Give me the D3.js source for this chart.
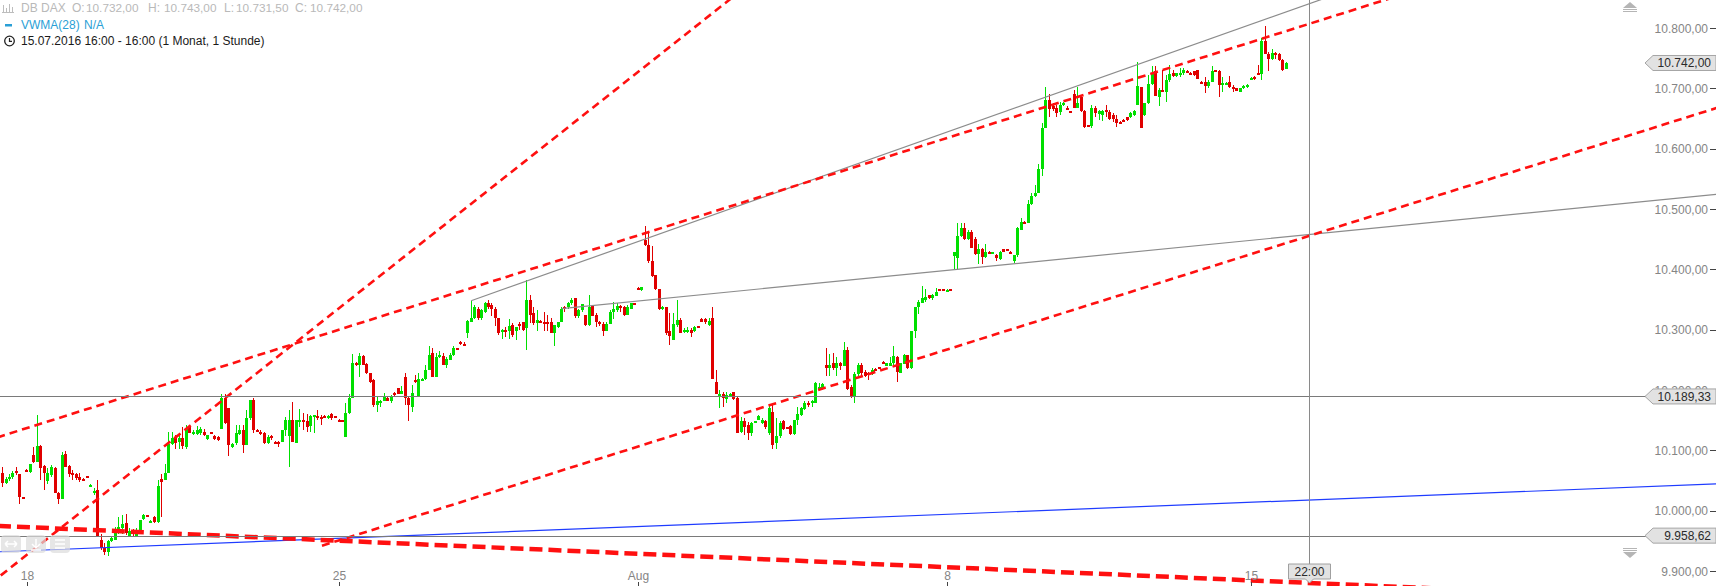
<!DOCTYPE html>
<html><head><meta charset="utf-8">
<script src="https://cdn.jsdelivr.net/npm/d3@7"></script>
<style>
html,body{margin:0;padding:0;background:#fff;overflow:hidden}
svg{display:block;font-family:Arial,"Liberation Sans",sans-serif}
</style></head><body>
<svg id="chart" width="1716" height="586"></svg>
<script>
// ---------- DATA (hourly candles, DB DAX, 15.07.2016 16:00 - 15.08.2016 16:00) ----------
const open = [
10062,10046,10052,10056,10066,10061,10023,10068,10064,10092,
10081,10107,10074,10050,10059,10070,10029,10019,10094,10074,
10062,10060,10056,10052,10058,10041,10030,10035,9951,9938,
9932,9950,9951,9969,9972,9979,9957,9968,9957,9965,
9987,9993,9980,9990,9981,10053,10051,10063,10111,10120,
10113,10120,10106,10139,10127,10127,10129,10131,10118,10130,
10124,10122,10136,10186,10170,10106,10112,10127,10134,10109,
10153,10183,10134,10131,10129,10112,10123,10114,10114,10114,
10134,10124,10151,10112,10150,10151,10149,10140,10157,10157,
10156,10157,10153,10161,10157,10151,10150,10122,10162,10186,
10245,10241,10256,10243,10228,10217,10175,10178,10182,10186,
10182,10195,10203,10193,10222,10186,10172,10217,10190,10216,
10218,10233,10261,10222,10256,10257,10242,10250,10258,10270,
10279,10277,10294,10313,10319,10334,10319,10330,10345,10341,
10335,10319,10298,10299,10297,10308,10297,10310,10313,10302,
10350,10327,10311,10315,10313,10313,10313,10295,10304,10312,
10337,10337,10344,10352,10322,10333,10324,10307,10339,10324,
10313,10310,10298,10310,10330,10333,10339,10337,10324,10335,
10344,10369,10365,10449,10440,10414,10391,10368,10334,10338,
10297,10283,10308,10316,10297,10298,10299,10298,10306,10317,
10317,10308,10319,10214,10188,10193,10185,10193,10196,10186,
10131,10148,10142,10128,10146,10151,10145,10148,10128,10164,
10112,10123,10149,10138,10140,10127,10150,10159,10169,10179,
10178,10179,10201,10204,10241,10237,10245,10236,10245,10240,
10267,10205,10188,10227,10241,10230,10229,10226,10235,10238,
10247,10240,10240,10244,10255,10229,10243,10258,10236,10297,
10337,10345,10350,10357,10352,10356,10367,10367,10366,10368,
10422,10418,10455,10469,10450,10462,10451,10425,10433,10421,
10429,10426,10424,10417,10433,10433,10429,10413,10424,10466,
10479,10477,10508,10521,10527,10566,10635,10680,10671,10668,
10660,10672,10668,10663,10690,10668,10685,10663,10639,10637,
10668,10657,10656,10664,10660,10656,10649,10645,10648,10652,
10652,10656,10672,10703,10656,10675,10707,10728,10685,10698,
10694,10713,10726,10720,10723,10725,10729,10726,10728,10730,
10711,10711,10704,10711,10730,10728,10706,10706,10711,10703,
10700,10694,10700,10702,10715,10719,10726,10724,10779,10757,
10748,10759,10757,10747,10732];
const high = [
10072,10056,10061,10066,10073,10061,10023,10069,10078,10106,
10158,10109,10076,10070,10076,10072,10031,10098,10099,10076,
10067,10062,10063,10054,10058,10044,10038,10051,9961,9946,
9951,9956,9973,9990,9993,9994,9971,9970,9971,9984,
9995,9993,9984,9991,10051,10061,10078,10131,10131,10125,
10125,10139,10142,10142,10133,10140,10139,10135,10125,10130,
10125,10123,10194,10194,10170,10112,10142,10142,10142,10167,
10183,10186,10135,10134,10131,10126,10126,10115,10116,10134,
10156,10167,10180,10150,10168,10162,10161,10159,10159,10167,
10159,10158,10158,10162,10157,10152,10151,10178,10194,10260,
10247,10262,10258,10244,10229,10219,10189,10183,10195,10189,
10192,10197,10204,10206,10229,10189,10208,10225,10228,10220,
10242,10273,10269,10261,10265,10261,10255,10261,10273,10270,
10282,10280,10316,10348,10341,10338,10334,10346,10349,10344,
10337,10319,10301,10305,10317,10311,10305,10313,10313,10382,
10357,10338,10333,10316,10330,10324,10319,10308,10313,10337,
10339,10346,10352,10352,10335,10343,10324,10358,10341,10327,
10315,10312,10312,10333,10346,10344,10341,10339,10341,10345,
10344,10370,10371,10471,10462,10438,10391,10368,10339,10338,
10327,10327,10349,10319,10302,10304,10302,10306,10306,10320,
10320,10319,10338,10233,10200,10197,10197,10195,10197,10189,
10156,10153,10147,10147,10149,10158,10153,10150,10175,10178,
10153,10148,10150,10138,10142,10151,10172,10172,10181,10181,
10183,10214,10211,10211,10269,10260,10261,10255,10247,10280,
10272,10208,10230,10244,10244,10233,10230,10236,10236,10238,
10248,10245,10255,10273,10256,10245,10260,10258,10297,10338,
10349,10372,10367,10358,10359,10369,10367,10367,10367,10368,
10429,10476,10476,10476,10465,10465,10453,10442,10435,10442,
10430,10429,10425,10431,10434,10434,10430,10424,10470,10485,
10480,10515,10527,10540,10575,10642,10703,10691,10675,10672,
10678,10677,10670,10663,10698,10703,10686,10664,10640,10672,
10670,10664,10664,10672,10664,10659,10656,10646,10649,10653,
10660,10664,10743,10703,10676,10722,10737,10737,10700,10730,
10722,10739,10730,10726,10733,10733,10730,10727,10729,10731,
10712,10719,10714,10737,10730,10730,10718,10710,10721,10705,
10701,10701,10705,10707,10718,10720,10739,10783,10803,10761,
10765,10761,10758,10748,10743];
const low = [
10040,10044,10050,10053,10059,10011,10021,10066,10063,10079,
10081,10051,10034,10045,10056,10029,10011,10019,10072,10056,
10051,10051,10048,10049,10056,10040,10026,9956,9934,9926,
9925,9948,9951,9962,9962,9960,9957,9958,9957,9962,
9985,9992,9979,9980,9980,9990,10051,10063,10109,10103,
10102,10102,10103,10128,10126,10125,10125,10123,10117,10129,
10117,10116,10136,10144,10090,10104,10109,10125,10095,10109,
10150,10128,10130,10125,10110,10110,10117,10110,10106,10113,
10124,10072,10113,10112,10139,10134,10131,10131,10128,10150,
10142,10154,10152,10151,10156,10147,10147,10122,10161,10186,
10239,10222,10241,10227,10211,10172,10164,10172,10181,10181,
10179,10189,10193,10193,10175,10148,10164,10211,10190,10215,
10217,10233,10222,10221,10253,10242,10236,10249,10256,10269,
10275,10273,10286,10312,10317,10316,10316,10328,10335,10322,
10306,10291,10284,10288,10284,10288,10283,10300,10297,10266,
10311,10308,10297,10314,10297,10297,10294,10273,10302,10312,
10330,10334,10341,10319,10320,10330,10306,10306,10322,10305,
10306,10289,10297,10309,10317,10330,10330,10323,10324,10334,
10343,10367,10364,10439,10410,10388,10365,10332,10333,10291,
10275,10283,10305,10294,10294,10295,10288,10296,10305,10313,
10309,10306,10219,10193,10170,10172,10179,10192,10183,10128,
10128,10125,10117,10123,10145,10150,10143,10136,10125,10102,
10102,10120,10134,10136,10125,10125,10142,10157,10167,10172,
10172,10178,10200,10200,10223,10223,10233,10223,10233,10239,
10200,10186,10179,10223,10222,10221,10217,10225,10233,10237,
10244,10239,10239,10241,10214,10228,10243,10234,10234,10286,
10326,10344,10346,10351,10350,10355,10366,10366,10366,10365,
10399,10399,10454,10449,10448,10435,10424,10409,10409,10418,
10427,10425,10413,10415,10429,10431,10428,10410,10420,10465,
10476,10476,10507,10520,10526,10555,10635,10653,10663,10652,
10656,10671,10664,10660,10667,10667,10661,10635,10636,10635,
10653,10647,10646,10653,10647,10645,10636,10644,10645,10646,
10651,10654,10672,10634,10654,10674,10705,10687,10671,10694,
10678,10711,10718,10719,10719,10722,10728,10724,10721,10715,
10710,10693,10700,10711,10729,10685,10694,10705,10700,10694,
10695,10694,10699,10701,10714,10714,10722,10714,10757,10729,
10747,10748,10746,10729,10731.5];
const close = [
10046,10052,10055,10063,10062,10022,10022,10067,10077,10080,
10107,10070,10062,10062,10072,10029,10019,10092,10072,10061,
10059,10054,10051,10051,10057,10043,10032,9957,9938,9932,
9949,9954,9969,9973,9978,9963,9967,9961,9968,9984,
9993,9992,9983,9982,10041,10048,10062,10111,10120,10112,
10120,10107,10136,10128,10131,10133,10135,10125,10125,10129,
10118,10117,10186,10145,10109,10111,10129,10134,10109,10153,
10183,10134,10131,10128,10112,10122,10122,10111,10111,10134,
10151,10151,10113,10150,10151,10148,10139,10157,10158,10155,
10153,10155,10157,10153,10156,10148,10148,10162,10186,10244,
10244,10256,10241,10228,10214,10175,10181,10181,10190,10182,
10188,10194,10193,10199,10186,10175,10195,10216,10218,10219,
10233,10258,10222,10255,10258,10242,10251,10258,10269,10269,
10278,10275,10315,10319,10338,10319,10332,10344,10338,10334,
10319,10295,10300,10297,10306,10291,10304,10309,10300,10349,
10324,10311,10316,10314,10312,10311,10295,10308,10312,10335,
10335,10344,10350,10322,10333,10342,10308,10337,10323,10312,
10309,10298,10310,10330,10334,10339,10337,10324,10337,10344,
10343,10368,10370,10440,10413,10389,10367,10335,10338,10294,
10290,10309,10316,10295,10299,10300,10295,10304,10305,10313,
10312,10315,10219,10194,10193,10186,10192,10194,10185,10129,
10148,10138,10128,10145,10148,10157,10151,10139,10170,10109,
10124,10146,10136,10137,10127,10150,10160,10170,10179,10177,
10182,10212,10205,10210,10237,10241,10236,10244,10240,10267,
10201,10189,10227,10241,10229,10223,10225,10233,10234,10237,
10244,10244,10245,10256,10230,10244,10258,10236,10297,10337,
10346,10352,10354,10352,10357,10363,10366,10366,10366,10365,
10429,10455,10469,10450,10462,10436,10425,10433,10421,10428,
10427,10428,10418,10429,10429,10431,10428,10424,10468,10479,
10477,10509,10522,10527,10566,10635,10681,10665,10665,10659,
10672,10676,10665,10662,10668,10676,10663,10636,10637,10668,
10659,10663,10663,10660,10650,10649,10642,10644,10646,10647,
10659,10663,10704,10634,10675,10708,10726,10687,10697,10694,
10714,10724,10720,10725,10726,10731,10728,10724,10722,10716,
10710,10704,10711,10728,10729,10706,10709,10709,10703,10700,
10696,10700,10704,10706,10717,10715,10724,10779,10757,10748,
10759,10757,10747,10730,10742];

const dayTickIndex  = [7, 95, 181, 268, 354];
const dayTickLabels = ["18", "25", "Aug", "8", "15"];
const priceTicks = [9900, 10000, 10100, 10200, 10300, 10400, 10500, 10600, 10700, 10800];
const horizontalLevels = [10189.33, 9958.62];
// drawn trend lines: anchor points [index1, price1, index2, price2]
const redFullLines  = [[0, 9895.2, 69.4, 10216.6], [7, 10136.8, 354, 10776.5]];
const redRays       = [[90.2, 9941.9, 215.3, 10169.7]];
const thickRedLine  = [0, 9974.4, 354, 9884.4];
const blueLine      = [0, 9932.1, 354, 10013.9];
const grayRays      = [[133, 10348, 283, 10658.6], [159, 10335, 354, 10448.1]];
const crosshairIndex = 370.6;
const crosshairLabel = "22:00";
const headerName = "DB DAX";
const ohlcLabels = ["O:", "H:", "L:", "C:"];
const indicatorName = "VWMA(28)";
const indicatorValue = "N/A";
const periodText = "15.07.2016 16:00 - 16:00 (1 Monat, 1 Stunde)";

// ---------- CHART ----------
const W = 1716, H = 586, N = close.length;
const svg = d3.select("#chart");
const loc = d3.formatLocale({decimal: ",", thousands: ".", grouping: [3], currency: ["", ""]});
const fmt = loc.format(",.2f");

const x = d3.scaleLinear().domain([0, ...dayTickIndex, N - 1])
  .range([2.7, 26.7, 339, 638, 947, 1251, 1286]);
const y = d3.scaleLinear().domain([9900, 10800]).range([571, 28]);

const UP = "#00df00", DN = "#e00000";
const idx = d3.range(N);
const cg = svg.append("g").attr("shape-rendering", "crispEdges");
cg.selectAll("rect.wick").data(idx).join("rect").attr("class", "wick")
  .attr("x", i => Math.round(x(i) - 0.5)).attr("width", 1)
  .attr("y", i => y(high[i])).attr("height", i => Math.max(1, y(low[i]) - y(high[i])))
  .attr("fill", i => close[i] >= open[i] ? UP : DN);
cg.selectAll("rect.body").data(idx).join("rect").attr("class", "body")
  .attr("x", i => Math.round(x(i) - 1.5)).attr("width", 3)
  .attr("y", i => y(Math.max(open[i], close[i])))
  .attr("height", i => Math.max(2, Math.abs(y(open[i]) - y(close[i]))))
  .attr("fill", i => close[i] >= open[i] ? UP : DN);

// line helpers (straight in screen space, extended)
function pts(a) { return [[x(a[0]), y(a[1])], [x(a[2]), y(a[3])]]; }
function extend(a, mode) {
  const [[x1, y1], [x2, y2]] = pts(a);
  const m = (y2 - y1) / (x2 - x1);
  const xa = mode === "ray" ? x1 : -40, xb = W + 40;
  return [[xa, y1 + m * (xa - x1)], [xb, y1 + m * (xb - x1)]];
}
const lg = svg.append("g").attr("fill", "none");
const line = d3.line();
grayRays.forEach(a => lg.append("path").attr("d", line(extend(a, "ray")))
  .attr("stroke", "#8c8c8c").attr("stroke-width", 1.2));
lg.append("path").attr("d", line(extend(blueLine, "line")))
  .attr("stroke", "#1f3cff").attr("stroke-width", 1.2);
redFullLines.forEach(a => lg.append("path").attr("d", line(extend(a, "line")))
  .attr("stroke", "#ff1010").attr("stroke-width", 2.6).attr("stroke-dasharray", "8,5"));
redRays.forEach(a => lg.append("path").attr("d", line(extend(a, "ray")))
  .attr("stroke", "#ff1010").attr("stroke-width", 2.6).attr("stroke-dasharray", "8,5"));
lg.append("path").attr("d", line(extend(thickRedLine, "line")))
  .attr("stroke", "#ff1010").attr("stroke-width", 4.5).attr("stroke-dasharray", "13,6");

// horizontal levels
horizontalLevels.forEach(v => svg.append("line")
  .attr("x1", 0).attr("x2", 1646).attr("y1", Math.round(y(v)) + 0.5).attr("y2", Math.round(y(v)) + 0.5)
  .attr("stroke", "#7a7a7a").attr("stroke-width", 1));

// crosshair
const cx = Math.round(x(crosshairIndex)) + 0.5;
svg.append("line").attr("x1", cx).attr("x2", cx).attr("y1", 0).attr("y2", 564)
  .attr("stroke", "#8a8a8a").attr("stroke-width", 1);

// y axis (right)
const ya = svg.append("g");
priceTicks.forEach(t => {
  ya.append("text").attr("x", 1708).attr("y", y(t) + 4.5).attr("text-anchor", "end")
    .attr("font-size", 12).attr("fill", "#858585").text(fmt(t));
  ya.append("line").attr("x1", 1710).attr("x2", 1716).attr("y1", Math.round(y(t)) + 0.5).attr("y2", Math.round(y(t)) + 0.5)
    .attr("stroke", "#444");
});
// scroll arrows
svg.append("path").attr("d", "M1623,8 L1637,8 L1630,2 Z").attr("fill", "#b5b5b5");
svg.append("path").attr("d", "M1623,9.5 H1637 M1623,11.5 H1637").attr("stroke", "#b5b5b5");
svg.append("path").attr("d", "M1623,548.5 H1637 M1623,550.5 H1637").attr("stroke", "#b5b5b5");
svg.append("path").attr("d", "M1623,552 L1637,552 L1630,558 Z").attr("fill", "#b5b5b5");

// price labels
function priceTag(v, txt) {
  const cy = y(v);
  svg.append("path")
    .attr("d", `M1645,${cy} L1653,${cy - 7.5} L1716,${cy - 7.5} L1716,${cy + 7.5} L1653,${cy + 7.5} Z`)
    .attr("fill", "#e2e2e2").attr("stroke", "#a5a5a5").attr("stroke-width", 1);
  svg.append("text").attr("x", 1711).attr("y", cy + 4.3).attr("text-anchor", "end")
    .attr("font-size", 12).attr("fill", "#2a2a2a").text(txt);
}
priceTag(close[N - 1], fmt(close[N - 1]));
horizontalLevels.forEach(v => priceTag(v, fmt(v)));

// x axis
dayTickIndex.forEach((t, k) => {
  const tx = Math.round(x(t)) + 0.5;
  svg.append("text").attr("x", tx).attr("y", 579.5).attr("text-anchor", "middle")
    .attr("font-size", 12).attr("fill", "#858585").text(dayTickLabels[k]);
  svg.append("line").attr("x1", tx).attr("x2", tx).attr("y1", 582).attr("y2", 586).attr("stroke", "#444");
});
// crosshair time label
svg.append("path").attr("d", `M${cx - 21},564 H${cx + 21} V579 H${cx + 4} L${cx},583 L${cx - 4},579 H${cx - 21} Z`)
  .attr("fill", "#e2e2e2").attr("stroke", "#a0a0a0");
svg.append("text").attr("x", cx).attr("y", 576).attr("text-anchor", "middle")
  .attr("font-size", 12).attr("fill", "#2a2a2a").text(crosshairLabel);

// bottom-left buttons
const bg = svg.append("g");
[[1, 21], [26, 46], [50, 70]].forEach(([a, b]) => bg.append("rect")
  .attr("x", a).attr("y", 535).attr("width", b - a).attr("height", 18).attr("rx", 4)
  .attr("fill", "#dcdcdc").attr("fill-opacity", 0.7));
bg.append("path").attr("d", "M5,544 H17 M5,544 L8,541 M5,544 L8,547 M17,544 L14,541 M17,544 L14,547")
  .attr("stroke", "#fff").attr("stroke-width", 1.5).attr("fill", "none");
bg.append("path").attr("d", "M36,539 V548 M32,544 L36,548 L40,544 M31,550 H41")
  .attr("stroke", "#fff").attr("stroke-width", 1.5).attr("fill", "none");
bg.append("path").attr("d", "M55,540 H65 M55,544 H65 M55,548 H65")
  .attr("stroke", "#fff").attr("stroke-width", 1.5).attr("fill", "none");

// header
const hd = svg.append("g").attr("font-size", 12);
const last = N - 1;
hd.append("path").attr("d", "M3.5,5 V12 M6.5,8 V12 M9.5,4 V12 M12.5,7 V12 M2,12.5 H14")
  .attr("stroke", "#bdbdbd").attr("stroke-width", 1).attr("fill", "none");
hd.append("text").attr("x", 21).attr("y", 11.5).attr("fill", "#b9b9b9").text(headerName);
const ohlcVals = [open[last], high[last], low[last], close[last]];
const labelX = [72, 148, 224, 295];
const valueX = [86, 164, 236, 310];
ohlcLabels.forEach((l, k) => {
  hd.append("text").attr("x", labelX[k]).attr("y", 11.5).attr("fill", "#b9b9b9").text(l);
  hd.append("text").attr("x", valueX[k]).attr("y", 11.5).attr("fill", "#b9b9b9")
    .attr("font-size", 11.8).text(fmt(ohlcVals[k]));
});
hd.append("rect").attr("x", 5).attr("y", 24).attr("width", 7).attr("height", 2.5).attr("fill", "#2a9fd6");
hd.append("text").attr("x", 21).attr("y", 28.5).attr("fill", "#2a9fd6").text(indicatorName);
hd.append("text").attr("x", 84).attr("y", 28.5).attr("fill", "#2a9fd6").text(indicatorValue);
hd.append("circle").attr("cx", 9.5).attr("cy", 41).attr("r", 4.8).attr("fill", "none").attr("stroke", "#222").attr("stroke-width", 1.3);
hd.append("path").attr("d", "M9.5,38 V41.3 H12").attr("fill", "none").attr("stroke", "#222").attr("stroke-width", 1.2);
hd.append("text").attr("x", 21).attr("y", 45).attr("fill", "#1a1a1a").text(periodText);
</script>
</body></html>
